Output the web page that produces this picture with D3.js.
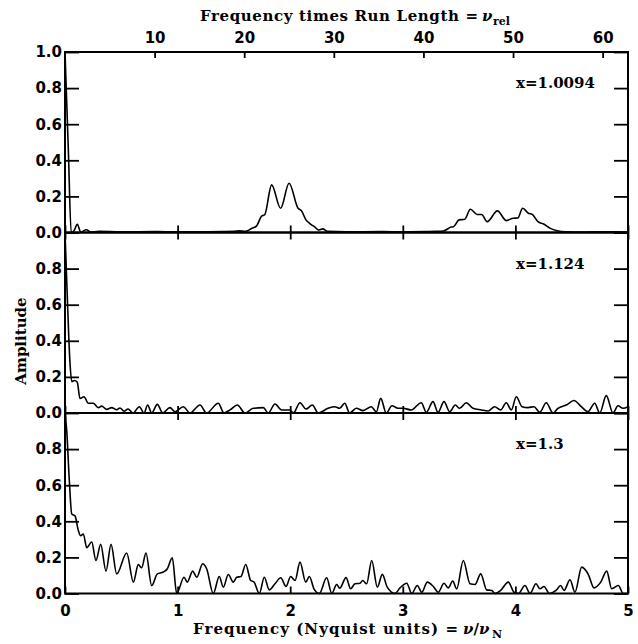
<!DOCTYPE html>
<html><head><meta charset="utf-8">
<script src="https://cdn.jsdelivr.net/npm/d3@7"></script>
<style>body{margin:0;background:#fff}svg{display:block}</style>
</head><body>
<svg id="c" width="638" height="644"></svg>
<script>
// ---- data ----
const nyquistTicks = [0, 1, 2, 3, 4, 5];
const relTicks = [10, 20, 30, 40, 50, 60];
const relMax = 62.83;
const ampTicksTop = [0, 0.2, 0.4, 0.6, 0.8, 1.0];
const ampTicks = [0, 0.2, 0.4, 0.6, 0.8];
const panelLabels = ["x=1.0094", "x=1.124", "x=1.3"];

const seriesA = [[0,1.0],[0.03,0.45],[0.055,0.0],[0.08,0.01],[0.109,0.045],[0.14,0.003],[0.19,0.015],[0.23,0.003],[0.3,0.006],[0.5,0.004],[0.8,0.005],[1.0,0.004],[1.2,0.004],[1.4,0.005],[1.5,0.006],[1.55,0.009],[1.6,0.006],[1.66,0.023],[1.7,0.035],[1.745,0.09],[1.775,0.1],[1.835,0.264],[1.915,0.134],[1.99,0.273],[2.07,0.134],[2.1,0.12],[2.14,0.07],[2.18,0.047],[2.22,0.03],[2.25,0.014],[2.29,0.02],[2.33,0.006],[2.5,0.004],[2.8,0.005],[3.0,0.004],[3.2,0.005],[3.3,0.006],[3.36,0.008],[3.43,0.03],[3.45,0.032],[3.5,0.07],[3.55,0.073],[3.6,0.129],[3.66,0.10],[3.7,0.10],[3.75,0.06],[3.84,0.12],[3.92,0.066],[3.98,0.079],[4.02,0.08],[4.065,0.134],[4.115,0.107],[4.15,0.10],[4.2,0.06],[4.25,0.047],[4.31,0.023],[4.37,0.01],[4.45,0.004],[4.6,0.003],[4.8,0.004],[5.0,0.003]];

const seriesB = [[0,1.0],[0.02,0.65],[0.044,0.28],[0.06,0.174],[0.085,0.18],[0.109,0.17],[0.133,0.08],[0.169,0.09],[0.207,0.054],[0.251,0.054],[0.296,0.03],[0.326,0.038],[0.37,0.02],[0.415,0.03],[0.459,0.018],[0.488,0.028],[0.524,0.01],[0.56,0.022],[0.604,0.0],[0.66,0.035],[0.702,0.0],[0.734,0.044],[0.77,0.0],[0.82,0.048],[0.868,0.0],[0.932,0.03],[0.977,0.007],[1.051,0.035],[1.11,0.0],[1.199,0.044],[1.258,0.0],[1.361,0.054],[1.412,0.0],[1.465,0.017],[1.53,0.044],[1.599,0.0],[1.672,0.026],[1.761,0.03],[1.805,0.0],[1.865,0.05],[1.924,0.017],[1.998,0.017],[2.028,0.0],[2.087,0.057],[2.14,0.022],[2.196,0.044],[2.25,0.0],[2.336,0.026],[2.395,0.035],[2.44,0.026],[2.484,0.054],[2.528,0.0],[2.587,0.026],[2.647,0.013],[2.72,0.035],[2.765,0.007],[2.804,0.081],[2.853,0.0],[2.904,0.04],[2.957,0.026],[3.002,0.026],[3.075,0.017],[3.164,0.057],[3.209,0.004],[3.268,0.063],[3.313,0.004],[3.366,0.063],[3.417,0.007],[3.466,0.044],[3.505,0.026],[3.564,0.057],[3.623,0.026],[3.697,0.017],[3.757,0.011],[3.816,0.035],[3.869,0.017],[3.919,0.057],[3.964,0.017],[4.008,0.09],[4.059,0.035],[4.112,0.03],[4.165,0.035],[4.216,0.004],[4.274,0.057],[4.334,0.0],[4.378,0.026],[4.452,0.044],[4.52,0.069],[4.585,0.035],[4.645,0.007],[4.704,0.054],[4.749,0.0],[4.807,0.096],[4.867,0.0],[4.911,0.04],[4.956,0.026],[5.0,0.035]];

const seriesC = [[0,1.0],[0.015,0.906],[0.038,0.63],[0.06,0.44],[0.089,0.43],[0.118,0.35],[0.139,0.32],[0.163,0.33],[0.193,0.254],[0.237,0.285],[0.275,0.183],[0.317,0.272],[0.364,0.124],[0.409,0.272],[0.459,0.109],[0.548,0.224],[0.607,0.063],[0.651,0.16],[0.681,0.143],[0.719,0.224],[0.77,0.044],[0.82,0.109],[0.873,0.119],[0.909,0.137],[0.953,0.198],[0.992,0.0],[1.057,0.09],[1.086,0.063],[1.134,0.124],[1.17,0.09],[1.223,0.165],[1.258,0.137],[1.317,0.0],[1.37,0.094],[1.406,0.035],[1.45,0.105],[1.495,0.063],[1.525,0.09],[1.563,0.094],[1.605,0.161],[1.649,0.072],[1.679,0.063],[1.726,0.0],[1.77,0.09],[1.814,0.02],[1.865,0.054],[1.916,0.087],[1.963,0.039],[2.004,0.094],[2.043,0.072],[2.087,0.174],[2.138,0.063],[2.17,0.094],[2.211,0.026],[2.258,0.0],[2.324,0.087],[2.369,0.0],[2.413,0.05],[2.44,0.03],[2.496,0.088],[2.537,0.026],[2.575,0.054],[2.62,0.057],[2.644,0.072],[2.679,0.054],[2.724,0.183],[2.774,0.035],[2.818,0.106],[2.862,0.035],[2.931,0.0],[2.975,0.031],[3.035,0.057],[3.079,0.0],[3.129,0.044],[3.168,0.007],[3.218,0.063],[3.271,0.039],[3.315,0.007],[3.366,0.057],[3.404,0.031],[3.443,0.069],[3.479,0.026],[3.537,0.183],[3.597,0.054],[3.641,0.05],[3.692,0.109],[3.745,0.02],[3.79,0.017],[3.819,0.0],[3.869,0.017],[3.937,0.063],[3.988,0.007],[4.026,0.0],[4.085,0.044],[4.13,0.0],[4.183,0.054],[4.218,0.026],[4.254,0.039],[4.301,0.0],[4.361,0.017],[4.402,0.044],[4.432,0.017],[4.485,0.076],[4.529,0.007],[4.589,0.146],[4.647,0.106],[4.698,0.031],[4.758,0.063],[4.811,0.124],[4.855,0.026],[4.914,0.044],[4.958,0.0],[5.0,0.0]];

const allSeries = [seriesA, seriesB, seriesC];

// ---- layout ----
const svg = d3.select("#c");
const L = 65, R = 628, T = 52, PH = 180.5;
const numFont = "'DejaVu Sans', sans-serif";
const txtFont = "'DejaVu Serif', serif";
const x = d3.scaleLinear().domain([0, 5]).range([L, R]);
const xRel = d3.scaleLinear().domain([0, relMax]).range([L, R]);

allSeries.forEach((data, i) => {
  const top = T + i * PH;
  const y = d3.scaleLinear().domain([0, 1]).range([top + PH, top]);
  const g = svg.append("g");

  const la = g.append("g").attr("transform", `translate(${L},0)`)
    .call(d3.axisLeft(y).tickValues(i === 0 ? ampTicksTop : ampTicks)
      .tickSize(-14).tickPadding(3).tickFormat(d3.format(".1f")));
  const ra = g.append("g").attr("transform", `translate(${R},0)`)
    .call(d3.axisRight(y).tickValues(ampTicksTop).tickSize(-14).tickFormat(""));
  const ba = g.append("g").attr("transform", `translate(0,${top + PH})`)
    .call(d3.axisBottom(x).tickValues(nyquistTicks).tickSize(-7).tickPadding(12)
      .tickFormat(i === 2 ? d3.format("d") : ""));
  let ta;
  if (i === 0) {
    ta = g.append("g").attr("transform", `translate(0,${top})`)
      .call(d3.axisTop(xRel).tickValues(relTicks).tickSize(-6).tickPadding(9).tickFormat(d3.format("d")));
  } else {
    ta = g.append("g").attr("transform", `translate(0,${top})`)
      .call(d3.axisTop(x).tickValues(nyquistTicks).tickSize(-7).tickFormat(""));
  }
  [la, ra, ba, ta].forEach(a => {
    a.select(".domain").remove();
    a.selectAll("line").attr("stroke", "#000").attr("stroke-width", 1.8);
    a.selectAll("text").attr("fill", "#000").attr("font-family", numFont)
      .attr("font-weight", "bold").attr("font-size", 15);
  });

  const line = d3.line().x(d => x(d[0])).y(d => y(d[1])).curve(d3.curveMonotoneX);
  g.append("path").datum(data).attr("d", line)
    .attr("fill", "none").attr("stroke", "#000").attr("stroke-width", 1.6)
    .attr("stroke-linejoin", "round");

  g.append("rect").attr("x", L).attr("y", top).attr("width", R - L).attr("height", PH)
    .attr("fill", "none").attr("stroke", "#000").attr("stroke-width", 2);

  g.append("text").attr("x", 516).attr("y", top + 36)
    .attr("font-family", txtFont).attr("font-weight", "bold").attr("font-size", 15)
    .text(panelLabels[i]);
});

// titles
function label(xp, yp, txt, opts = {}) {
  const t = svg.append("text").attr("x", xp).attr("y", yp)
    .attr("font-family", txtFont).attr("font-weight", "bold")
    .attr("font-size", opts.size || 15).text(txt);
  if (opts.italic) t.attr("font-style", "italic");
  if (opts.len) t.attr("textLength", opts.len).attr("lengthAdjust", "spacing");
  return t;
}
label(200, 20.5, "Frequency times Run Length =", { len: 278 });
label(482, 20.5, "ν", { italic: true });
label(493, 24.5, "rel", { size: 11 });

label(193, 634, "Frequency (Nyquist units) =", { len: 265 });
const nu2 = label(463, 634, "", {});
nu2.append("tspan").attr("font-style", "italic").text("ν");
nu2.append("tspan").text("/");
nu2.append("tspan").attr("font-style", "italic").text("ν");
label(492, 638, "N", { size: 11 });

svg.append("text").attr("transform", "translate(26,341) rotate(-90)")
  .attr("text-anchor", "middle")
  .attr("font-family", txtFont).attr("font-weight", "bold").attr("font-size", 15)
  .text("Amplitude");
</script>
</body></html>
